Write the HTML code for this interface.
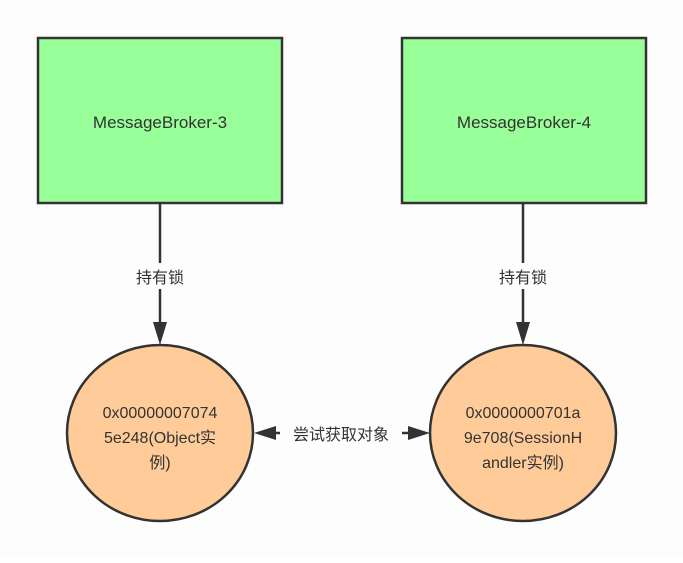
<!DOCTYPE html>
<html><head><meta charset="utf-8"><style>body{margin:0;background:#fff}</style></head><body>
<svg width="683" height="558" xmlns="http://www.w3.org/2000/svg" font-family="Liberation Sans, Noto Sans CJK SC, sans-serif" fill="#333">
<rect width="683" height="558" fill="#fdfdfd"/>
<rect x="38" y="38" width="244" height="165" fill="#99ff99" stroke="#333" stroke-width="2.5"/>
<rect x="402" y="38" width="244" height="165" fill="#99ff99" stroke="#333" stroke-width="2.5"/>
<text x="160" y="128" font-size="17" text-anchor="middle">MessageBroker-3</text>
<text x="524" y="128" font-size="17" text-anchor="middle">MessageBroker-4</text>
<g stroke="#333" stroke-width="2.5">
<line x1="160" y1="203" x2="160" y2="325"/>
<line x1="523" y1="203" x2="523" y2="325"/>
<line x1="262" y1="433" x2="420" y2="433"/>
</g>
<rect x="120" y="263" width="80" height="26" fill="#fdfdfd"/>
<rect x="484" y="263" width="80" height="26" fill="#fdfdfd"/>
<text x="160" y="283" font-size="16" text-anchor="middle">持有锁</text>
<text x="523" y="283" font-size="16" text-anchor="middle">持有锁</text>
<polygon points="153,322 167,322 160,345" fill="#333"/>
<polygon points="516,322 530,322 523,345" fill="#333"/>
<ellipse cx="160" cy="433" rx="93" ry="88" fill="#ffcc99" stroke="#333" stroke-width="2.5"/>
<ellipse cx="523" cy="433" rx="93" ry="88" fill="#ffcc99" stroke="#333" stroke-width="2.5"/>
<polygon points="254,433 276,426 276,440" fill="#333"/>
<polygon points="430,433 408,426 408,440" fill="#333"/>
<rect x="280" y="422" width="122" height="24" fill="#fdfdfd"/>
<text x="341" y="440" font-size="16" text-anchor="middle">尝试获取对象</text>
<g font-size="16" text-anchor="middle">
<text x="160" y="418">0x000000070​74</text>
<text x="160" y="443">5e248(Object实</text>
<text x="160" y="468">例)</text>
<text x="523" y="418">0x0000000701a</text>
<text x="523" y="443">9e708(SessionH</text>
<text x="523" y="468">andler实例)</text>
</g>
</svg>
</body></html>
